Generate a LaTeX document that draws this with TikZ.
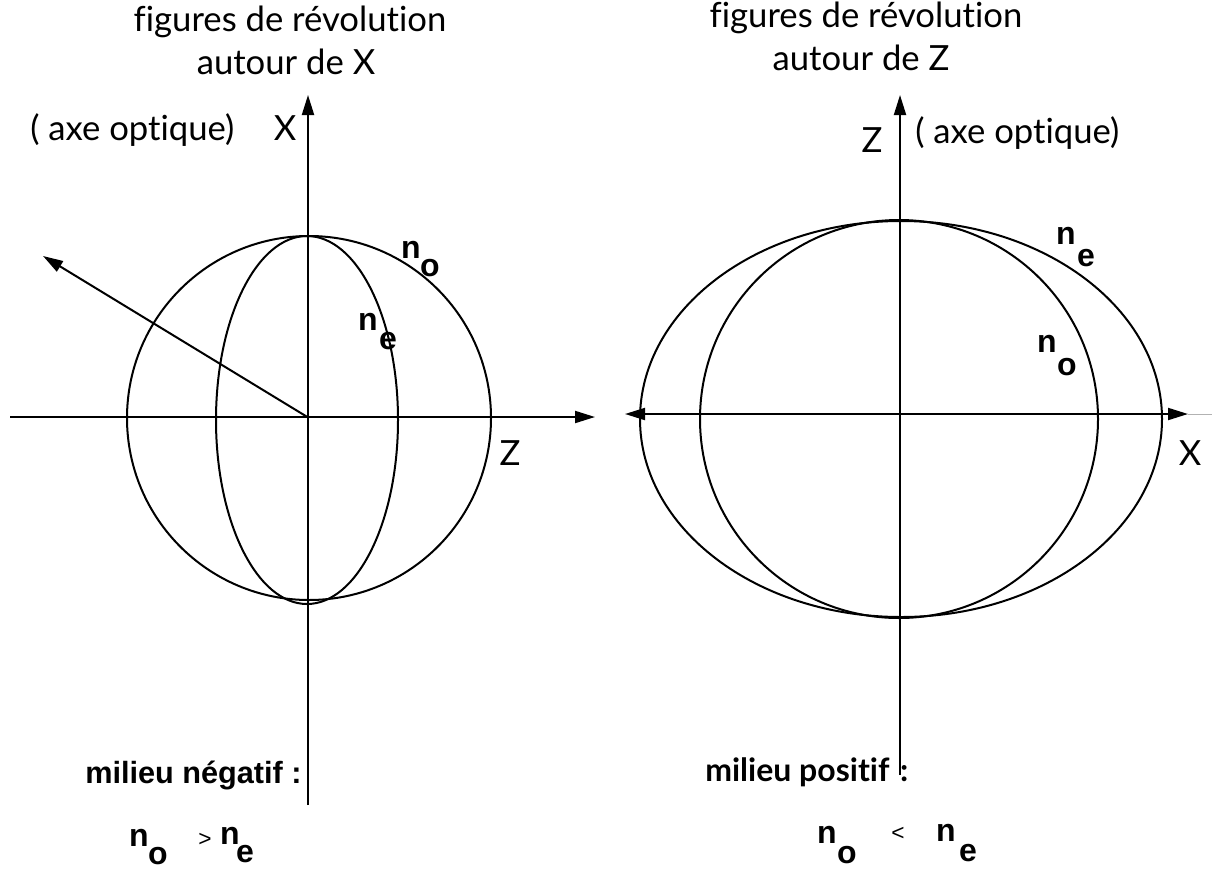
\documentclass[tikz,border=0pt]{standalone}
\usepackage{fontspec}
\setmainfont{Lato}[Ligatures=NoCommon]
\newfontfamily\arl{Liberation Sans}
\usetikzlibrary{arrows.meta}
\tikzset{
  ln/.style={line width=1.5pt},
  tip/.style={-{Triangle[length=15pt,width=9pt]}},
  lbl/.style={font=\fontsize{26}{30}\selectfont, inner sep=0pt},
  nn/.style={font=\arl\bfseries\fontsize{24}{26}\selectfont, inner sep=0pt},
  bold/.style={font=\arl\bfseries\fontsize{23}{26}\selectfont, inner sep=0pt, anchor=west},
}
\begin{document}
\begin{tikzpicture}[x=0.75pt,y=-0.75pt]
\path[use as bounding box] (0,0) rectangle (1212,871);
% ---------- left diagram ----------
\coordinate (Lc) at (309,418);
\coordinate (Ltop) at (308,95);
\coordinate (Lbot) at (308,805);
\coordinate (Lleft) at (10,417);
\coordinate (Lright) at (595,417);
\coordinate (Ltip) at (43,256);
\draw[ln,tip] (Lbot) -- (Ltop);
\draw[ln,tip] (Lleft) -- (Lright);
\draw[ln] (Lc) circle[radius=182];
\draw[ln] (307,420) ellipse[x radius=91, y radius=184];
\draw[ln,tip] (Lc) -- (Ltip);
\node[lbl] (t1a) at (290,22) {figures de révolution};
\node[lbl] (t1b) at (286,62) {autour de X};
\node[lbl,anchor=west] (ax1) at (30,130) {( axe optique)};
\node[lbl] (X1) at (285,128) {X};
\node[lbl] (Z1) at (510,453) {Z};
\node[nn] (no1n) at (411,250) {n};
\node[nn] (no1o) at (430,268) {o};
\node[nn] (ne1n) at (368,322) {n};
\node[nn] (ne1e) at (388,341) {e};
\node[bold] (mn) at (85,775) {milieu négatif :};
\node[nn] (r1n) at (139,838) {n};
\node[nn] (r1o) at (158,856) {o};
\node[lbl,font=\arl\fontsize{17}{18}\selectfont] (r1g) at (205,840) {>};
\node[nn] (r1m) at (230,836) {n};
\node[nn] (r1e) at (245,854) {e};
% ---------- right diagram ----------
\coordinate (Rc) at (899,419);
\coordinate (Rtop) at (900,95);
\coordinate (Rbot) at (900,775);
\coordinate (Rleft) at (625,414);
\coordinate (Rright) at (1188,414);
\coordinate (Redge) at (1212,414);
\draw[ln,tip] (Rbot) -- (Rtop);
\draw[ln,{Triangle[length=15pt,width=9pt]}-{Triangle[length=15pt,width=9pt]}] (Rleft) -- (Rright);
\draw[line width=0.4pt,gray!60] (Rright) -- (Redge);
\draw[ln] (Rc) circle[radius=199];
\draw[ln] (901,419) ellipse[x radius=261, y radius=198];
\node[lbl] (t2a) at (866,18) {figures de révolution};
\node[lbl] (t2b) at (861,58) {autour de Z};
\node[lbl,anchor=west] (ax2) at (915,133) {( axe optique)};
\node[lbl] (Z2) at (872,140) {Z};
\node[lbl] (X2) at (1190,453) {X};
\node[nn] (ne2n) at (1066,236) {n};
\node[nn] (ne2e) at (1086,258) {e};
\node[nn] (no2n) at (1047,344) {n};
\node[nn] (no2o) at (1067,367) {o};
\node[bold,font=\bfseries\fontsize{24}{26}\selectfont] (mp) at (705,772) {milieu positif\,\,:};
\node[nn] (r2n) at (827,835) {n};
\node[nn] (r2o) at (847,855) {o};
\node[lbl,font=\arl\fontsize{17}{18}\selectfont] (r2l) at (898,834) {<};
\node[nn] (r2m) at (946,833) {n};
\node[nn] (r2e) at (968,853) {e};
\end{tikzpicture}
\end{document}
